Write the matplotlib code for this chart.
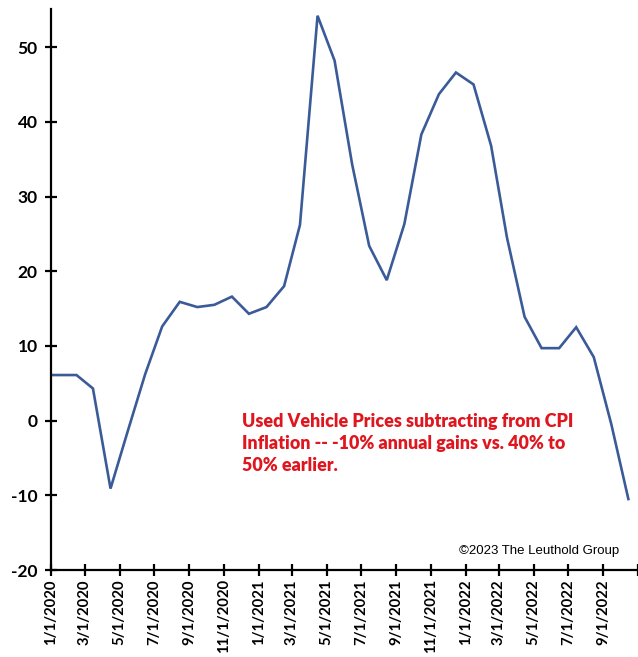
import pandas as pd
import matplotlib
matplotlib.use("Agg")
import matplotlib.pyplot as plt

# Monthly readings, plotted mid-month (Dec 2019 point sits left of the axis and is clipped)
months = pd.date_range("2019-12-01", "2022-10-01", freq="MS")
values = [
    6.1, 6.1, 6.1, 4.3, -9.1, -1.5, 6.2, 12.6, 15.9, 15.2, 15.5, 16.6,
    14.3, 15.2, 18.0, 26.2, 54.2, 48.2, 34.3, 23.4, 18.8, 26.3, 38.3,
    43.7, 46.6, 45.0, 36.8, 24.5, 13.9, 9.7, 9.7, 12.5, 8.5, -0.5, -10.5,
]

tick_dates = pd.date_range("2020-01-01", "2022-11-01", freq="2MS")
y_ticks = [-20, -10, 0, 10, 20, 30, 40, 50]

note = ("Used Vehicle Prices subtracting from CPI\n"
        "Inflation -- -10% annual gains vs. 40% to\n"
        "50% earlier.")
credit = "\u00a92023 The Leuthold Group"

bold_font = ["Lato", "DejaVu Sans"]

fig = plt.figure(figsize=(6.38, 6.57), dpi=100)
ax = fig.add_axes([0.0799, 0.1324, 0.9201, 0.8539])

x = months + pd.Timedelta(days=14)
ax.plot(x, values, color="#3b5b98", lw=1.9, solid_joinstyle="miter")

ax.set_xlim(pd.Timestamp("2020-01-01"), pd.Timestamp("2022-11-01"))
ax.set_ylim(-20, 55.1)

ax.set_xticks(tick_dates)
labels = [f"{d.month}/{d.day}/{d.year}" for d in tick_dates]
labels[-1] = ""
ax.set_xticklabels(labels, rotation=90, fontsize=10.7, fontweight="bold",
                   family=bold_font)
ax.set_yticks(y_ticks)
ax.set_yticklabels([str(v) for v in y_ticks], fontsize=12.5, fontweight="bold",
                   family=bold_font)

for side in ["top", "right"]:
    ax.spines[side].set_visible(False)
for side in ["left", "bottom"]:
    ax.spines[side].set_linewidth(1.6)
    ax.spines[side].set_color("black")
ax.tick_params(axis="both", direction="inout", length=9, width=1.6, colors="black")
ax.tick_params(axis="y", pad=5)
ax.tick_params(axis="x", pad=2)

ax.text(0.379, 0.372, note, transform=fig.transFigure, color="#e0161f",
        fontsize=12.9, fontweight="heavy", family=bold_font, va="top",
        ha="left", linespacing=1.38)
ax.text(0.971, 0.162, credit, transform=fig.transFigure, color="black",
        fontsize=9.5, family="Liberation Sans", ha="right", va="center")

fig.savefig("out.png", dpi=100)
